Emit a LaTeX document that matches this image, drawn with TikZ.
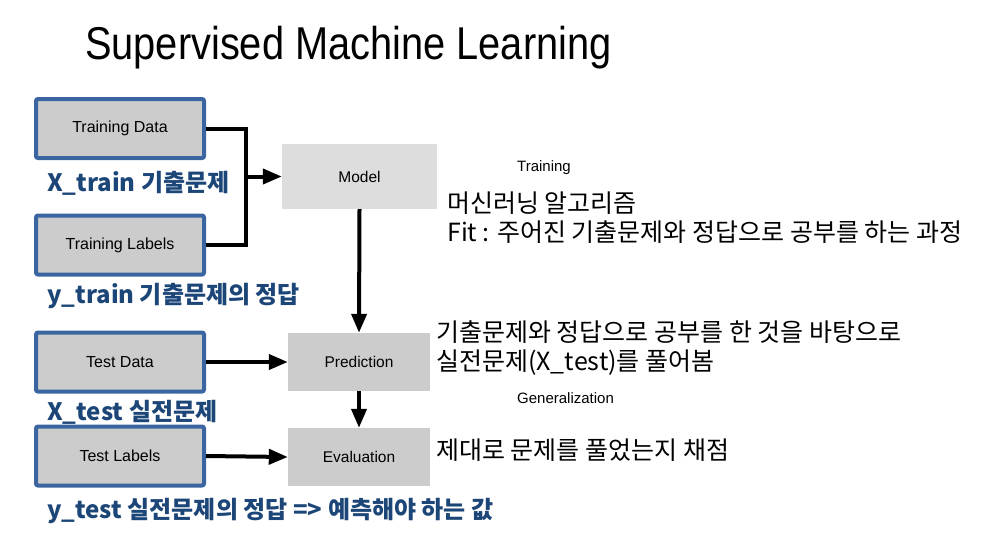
\documentclass[tikz,border=0pt]{standalone}
\usepackage{fontspec}
\setmainfont{Liberation Sans}
\newfontfamily\titlefont[FakeStretch=0.865]{Liberation Sans}
\newfontfamily\kofont{Noto Sans CJK KR}
\usetikzlibrary{arrows.meta}
\definecolor{boxblue}{RGB}{58,101,160}
\definecolor{boxgray}{RGB}{204,204,204}
\definecolor{modelgray}{RGB}{221,221,221}
\definecolor{labelblue}{RGB}{28,70,120}
\tikzset{
  inbox/.style={draw=boxblue, line width=4pt, fill=boxgray, rounded corners=2pt,
    minimum width=168pt, minimum height=59pt, font=\fontsize{16}{19}\selectfont},
  stepbox/.style={fill=boxgray, minimum width=142pt, minimum height=58pt,
    font=\fontsize{15.5}{18}\selectfont},
  flow/.style={line width=4pt},
  flowarrow/.style={line width=4pt, -{Triangle[length=19pt,width=15pt]}},
  varlabel/.style={anchor=base west, inner sep=0pt, text=labelblue,
    font=\kofont\bfseries\fontsize{24}{28}\selectfont},
  note/.style={anchor=base west, inner sep=0pt, align=left,
    font=\kofont\fontsize{25}{29}\selectfont},
  phase/.style={anchor=base west, inner sep=0pt, font=\fontsize{15}{18}\selectfont}
}
\begin{document}
\begin{tikzpicture}[x=1pt,y=-1pt]
  \useasboundingbox (0,0) rectangle (992,542);
  \node (title) [anchor=base west, inner sep=0pt, font=\titlefont\fontsize{46}{50}\selectfont]
    at (85,59) {Supervised Machine Learning};

  % inputs
  \node (trdata) [inbox] at (120,128.5) {Training Data};
  \node (trlabels) [inbox] at (120,245) {Training Labels};
  \node (tsdata) [inbox] at (120,362) {Test Data};
  \node (tslabels) [inbox] at (120,456) {Test Labels};

  % steps
  \node (model) [stepbox, fill=modelgray, minimum width=155pt, minimum height=65pt]
    at (359.5,176.5) {Model};
  \node (pred) [stepbox] at (359,362) {Prediction};
  \node (eval) [stepbox] at (359,457) {Evaluation};

  \coordinate (join) at (246,176.5);
  \draw[flow] (trdata.east) -| (join) |- (trlabels.east);
  \draw[flowarrow] (join) -- (model.west);
  \draw[flowarrow] (model.south) -- (pred.north);
  \draw[flowarrow] (pred.south) -- (eval.north);
  \draw[flowarrow] (tsdata.east) -- (pred.west);
  \draw[flowarrow] (tslabels.east) -- (eval.west);

  % labels
  \node (xtrain) [varlabel] at (47,191) {X\_train 기출문제};
  \node (ytrain) [varlabel] at (47,303) {y\_train 기출문제의 정답};
  \node (xtest) [varlabel] at (47,420) {X\_test 실전문제};
  \node (ytest) [varlabel] at (47,518) {y\_test 실전문제의 정답 => 예측해야 하는 값};

  \node (training) [phase] at (517,171) {Training};
  \node (general) [phase] at (517,403) {Generalization};
  \node (fitnote) [note] at (447,241) {머신러닝 알고리즘\\Fit : 주어진 기출문제와 정답으로 공부를 하는 과정};
  \node (prednote) [note] at (436,370) {기출문제와 정답으로 공부를 한 것을 바탕으로\\실전문제(X\_test)를 풀어봄};
  \node (evalnote) [note] at (436,459) {제대로 문제를 풀었는지 채점};
\end{tikzpicture}
\end{document}
